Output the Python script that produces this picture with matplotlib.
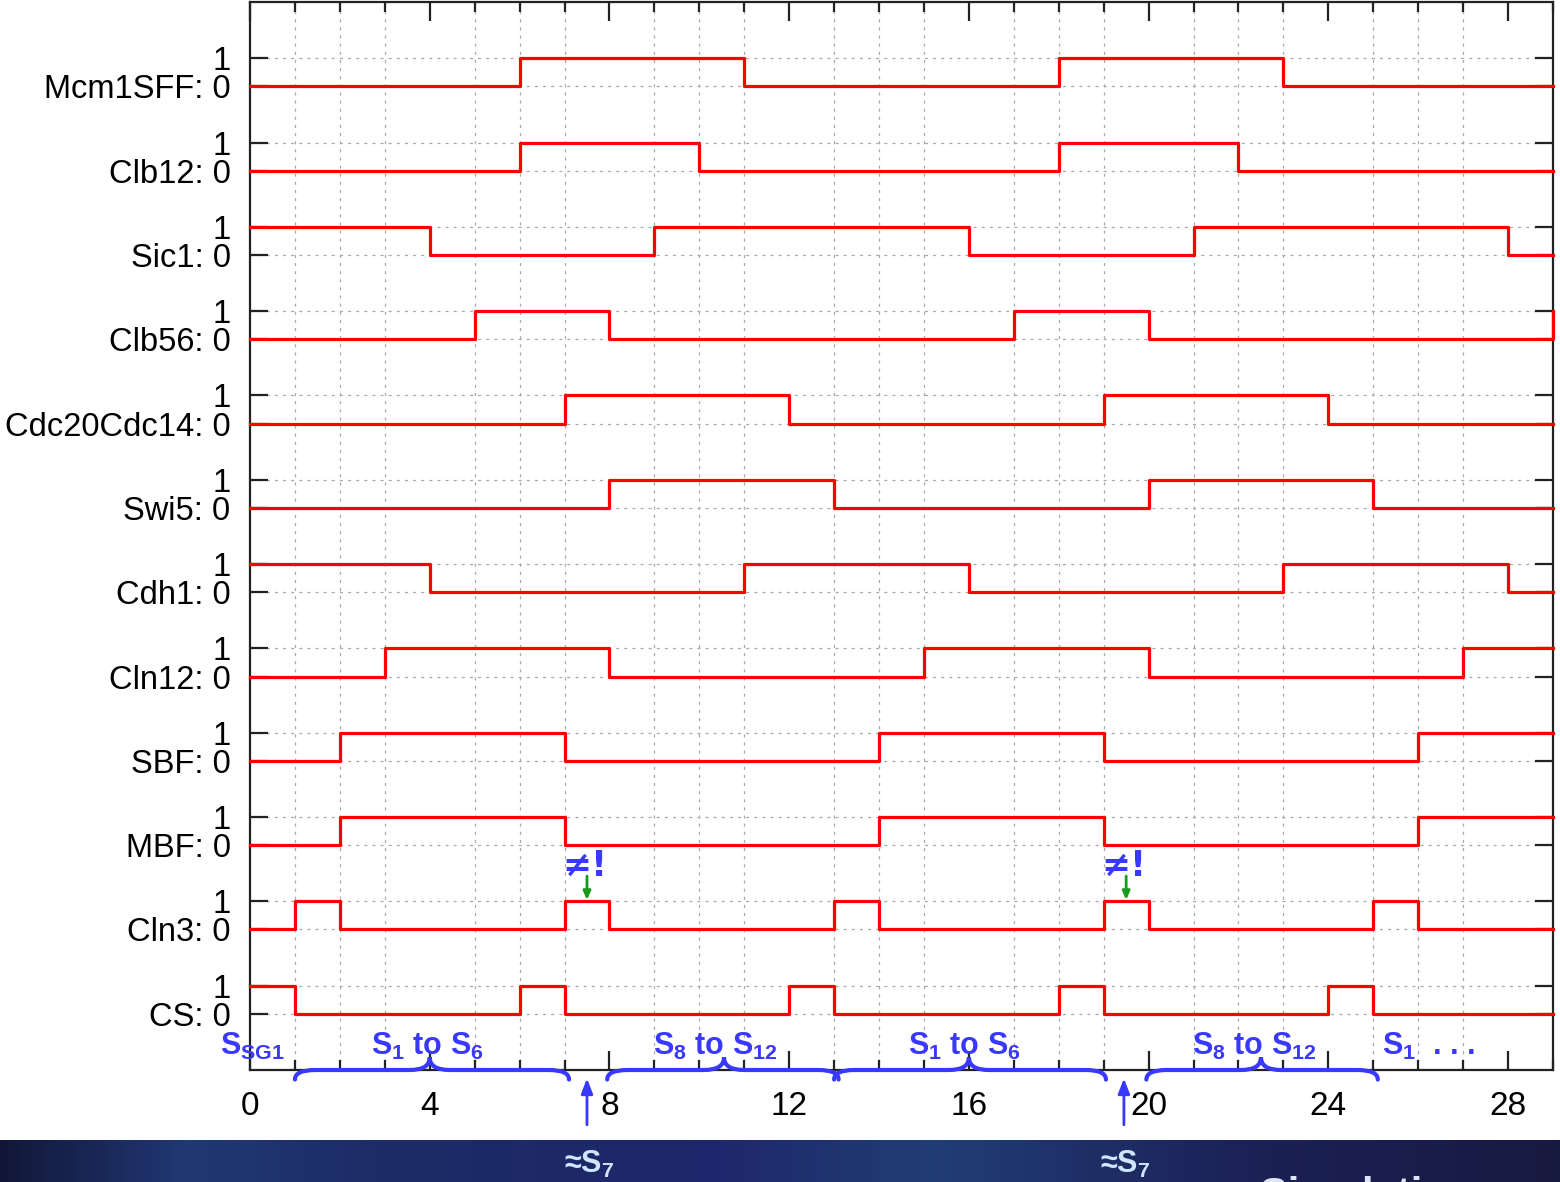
"""Boolean network timing diagram: 12 species over 29 time steps."""

import matplotlib.pyplot as plt
import numpy as np
from matplotlib.path import Path
from matplotlib.patches import PathPatch

plt.rcParams["font.family"] = ["Liberation Sans", "DejaVu Sans"]
plt.rcParams["mathtext.fontset"] = "custom"
plt.rcParams["mathtext.rm"] = "Liberation Sans:bold"
plt.rcParams["mathtext.default"] = "rm"

# time steps 0..29, value holds from t to t+1
TIME = list(range(30))

NAMES = ["Mcm1SFF", "Clb12", "Sic1", "Clb56", "Cdc20Cdc14", "Swi5",
         "Cdh1", "Cln12", "SBF", "MBF", "Cln3", "CS"]

Mcm1SFF = [0,0,0,0,0,0,1,1,1,1,1,0,0,0,0,0,0,0,1,1,1,1,1,0,0,0,0,0,0,0]
Clb12   = [0,0,0,0,0,0,1,1,1,1,0,0,0,0,0,0,0,0,1,1,1,1,0,0,0,0,0,0,0,0]
Sic1    = [1,1,1,1,0,0,0,0,0,1,1,1,1,1,1,1,0,0,0,0,0,1,1,1,1,1,1,1,0,0]
Clb56   = [0,0,0,0,0,1,1,1,0,0,0,0,0,0,0,0,0,1,1,1,0,0,0,0,0,0,0,0,0,1]
Cdc20Cdc14 = [0,0,0,0,0,0,0,1,1,1,1,1,0,0,0,0,0,0,0,1,1,1,1,1,0,0,0,0,0,0]
Swi5    = [0,0,0,0,0,0,0,0,1,1,1,1,1,0,0,0,0,0,0,0,1,1,1,1,1,0,0,0,0,0]
Cdh1    = [1,1,1,1,0,0,0,0,0,0,0,1,1,1,1,1,0,0,0,0,0,0,0,1,1,1,1,1,0,0]
Cln12   = [0,0,0,1,1,1,1,1,0,0,0,0,0,0,0,1,1,1,1,1,0,0,0,0,0,0,0,1,1,1]
SBF     = [0,0,1,1,1,1,1,0,0,0,0,0,0,0,1,1,1,1,1,0,0,0,0,0,0,0,1,1,1,1]
MBF     = [0,0,1,1,1,1,1,0,0,0,0,0,0,0,1,1,1,1,1,0,0,0,0,0,0,0,1,1,1,1]
Cln3    = [0,1,0,0,0,0,0,1,0,0,0,0,0,1,0,0,0,0,0,1,0,0,0,0,0,1,0,0,0,0]
CS      = [1,0,0,0,0,0,1,0,0,0,0,0,1,0,0,0,0,0,1,0,0,0,0,0,1,0,0,0,0,0]

SERIES = [Mcm1SFF, Clb12, Sic1, Clb56, Cdc20Cdc14, Swi5,
          Cdh1, Cln12, SBF, MBF, Cln3, CS]

# state-sequence annotations under the axis
BRACE_SPANS = [(1.0, 7.1, 4.0), (7.95, 13.1, 10.55), (13.0, 19.05, 16.0), (19.95, 25.1, 22.5)]
BRACE_LABELS = [r"S$_1$ to S$_6$", r"S$_8$ to S$_{12}$", r"S$_1$ to S$_6$", r"S$_8$ to S$_{12}$"]
BRACE_LABEL_X = [3.96, 10.36, 15.9, 22.36]
S7_TIMES = [7.5, 19.45]
MISMATCH_TIMES = [7.5, 19.5]

BLUE = "#3838ff"
RED = "#ff0000"
SPACING = 3


def draw_brace(ax, x0, x1, xm, yb=-2.0, down=0.34, up=0.45, r=0.45):
    verts = [
        (x0, yb - down), (x0, yb), (x0 + r, yb),
        (xm - r, yb),
        (xm, yb), (xm, yb + up),
        (xm, yb), (xm + r, yb),
        (x1 - r, yb),
        (x1, yb), (x1, yb - down),
    ]
    codes = [Path.MOVETO, Path.CURVE3, Path.CURVE3,
             Path.LINETO,
             Path.CURVE3, Path.CURVE3,
             Path.CURVE3, Path.CURVE3,
             Path.LINETO,
             Path.CURVE3, Path.CURVE3]
    patch = PathPatch(Path(verts, codes), facecolor="none", edgecolor=BLUE,
                      linewidth=3.0, clip_on=False, zorder=6, capstyle="round")
    ax.add_patch(patch)


def main() -> None:
    fig = plt.figure(figsize=(15.6, 11.82), dpi=100)

    # dark slide band at the bottom
    band = fig.add_axes([0, 0, 1, 42 / 1182])
    stops_x = [0.0, 0.12, 0.25, 0.45, 0.6, 0.8, 1.0]
    stops_c = np.array([[0.07, 0.09, 0.22], [0.13, 0.22, 0.46], [0.11, 0.17, 0.40],
                        [0.12, 0.15, 0.42], [0.13, 0.24, 0.46], [0.11, 0.13, 0.34],
                        [0.09, 0.10, 0.25]])
    gx = np.linspace(0, 1, 400)
    grad = np.stack([np.interp(gx, stops_x, stops_c[:, i]) for i in range(3)], axis=-1)
    band.imshow(grad[None, :, :], aspect="auto", extent=(0, 1, 0, 1))
    band.set_axis_off()

    ax = fig.add_axes([250 / 1560, (1182 - 1070) / 1182, 1303 / 1560, 1068 / 1182])
    n = len(NAMES)
    yticks, ylabels = [], []
    for i, (name, vals) in enumerate(zip(NAMES, SERIES)):
        off = SPACING * (n - 1 - i)
        ax.plot(TIME, np.array(vals) + off, drawstyle="steps-post",
                color=RED, linewidth=2.3, zorder=4, clip_on=False)
        yticks += [off, off + 1]
        ylabels += [f"{name}: 0", "1"]

    ax.set_xlim(0, 29)
    ax.set_ylim(-2, 36)
    ax.set_xticks(range(0, 29, 4))
    ax.set_xticks(range(0, 30), minor=True)
    ax.set_yticks(yticks)
    ax.set_yticklabels(ylabels)
    ax.tick_params(axis="both", which="both", direction="in", top=True, right=True,
                   labelsize=24, width=1.6, color="#222222")
    ax.tick_params(axis="x", which="major", length=14, pad=15)
    ax.tick_params(axis="x", which="minor", length=7)
    ax.tick_params(axis="y", which="major", length=13, pad=14)
    for lab in ax.get_yticklabels():
        lab.set_fontsize(23.5)
    for s in ax.spines.values():
        s.set_linewidth(1.6)
        s.set_color("#222222")
    ax.grid(True, which="minor", axis="x", color="#aaaaaa", linestyle=(0, (2.5, 4)), linewidth=0.9)
    ax.grid(True, which="major", axis="y", color="#aaaaaa", linestyle=(0, (2.5, 4)), linewidth=0.9)
    ax.set_axisbelow(True)

    # braces and state labels
    for (x0, x1, xm) in BRACE_SPANS:
        draw_brace(ax, x0, x1, xm)
    for lab, x in zip(BRACE_LABELS, BRACE_LABEL_X):
        ax.text(x, -1.47, lab, color=BLUE, fontsize=22, ha="center", va="baseline",
                fontweight="bold", zorder=6, clip_on=False)
    ax.text(-0.67, -1.47, r"S$_{SG1}$", color=BLUE, fontsize=22, ha="left",
            va="baseline", fontweight="bold", zorder=6, clip_on=False)
    ax.text(25.19, -1.47, r"S$_1$  . . .", color=BLUE, fontsize=22, ha="left",
            va="baseline", fontweight="bold", zorder=6, clip_on=False)

    # S7 arrows below the axis
    for t in S7_TIMES:
        ax.annotate("", xy=(t, -2.3), xytext=(t, -3.95), annotation_clip=False,
                    arrowprops=dict(arrowstyle="-|>,head_length=0.9,head_width=0.35",
                                    color=BLUE, linewidth=2.0, shrinkA=0, shrinkB=0))
        fig.text((252 + t * 44.9) / 1560, (1182 - 1173) / 1182, r"≈S$_7$",
                 color="#cfe6ff", fontsize=22, ha="center", va="baseline", fontweight="bold")

    # mismatch markers on Cln3
    cln3_high = SPACING * 1 + 1
    for t in MISMATCH_TIMES:
        ax.annotate("", xy=(t, cln3_high + 0.05), xytext=(t, cln3_high + 0.9),
                    annotation_clip=False,
                    arrowprops=dict(arrowstyle="-|>,head_length=0.5,head_width=0.22",
                                    color="#1a9a1a", linewidth=2.0, shrinkA=0, shrinkB=0))
        ax.text(t - 0.05, cln3_high + 1.25, "≠!", color=BLUE, fontsize=25,
                fontweight="bold", ha="center", va="center", zorder=6,
                family=["DejaVu Sans"])

    # slide caption, mostly below the bottom edge as in the source screenshot
    fig.text(1260 / 1560, (1182 - 1176) / 1182, "Simulation results", color="#dde4f4",
             fontsize=30, fontweight="bold", ha="left", va="top")

    fig.savefig("out.png", dpi=100)


if __name__ == "__main__":
    main()
